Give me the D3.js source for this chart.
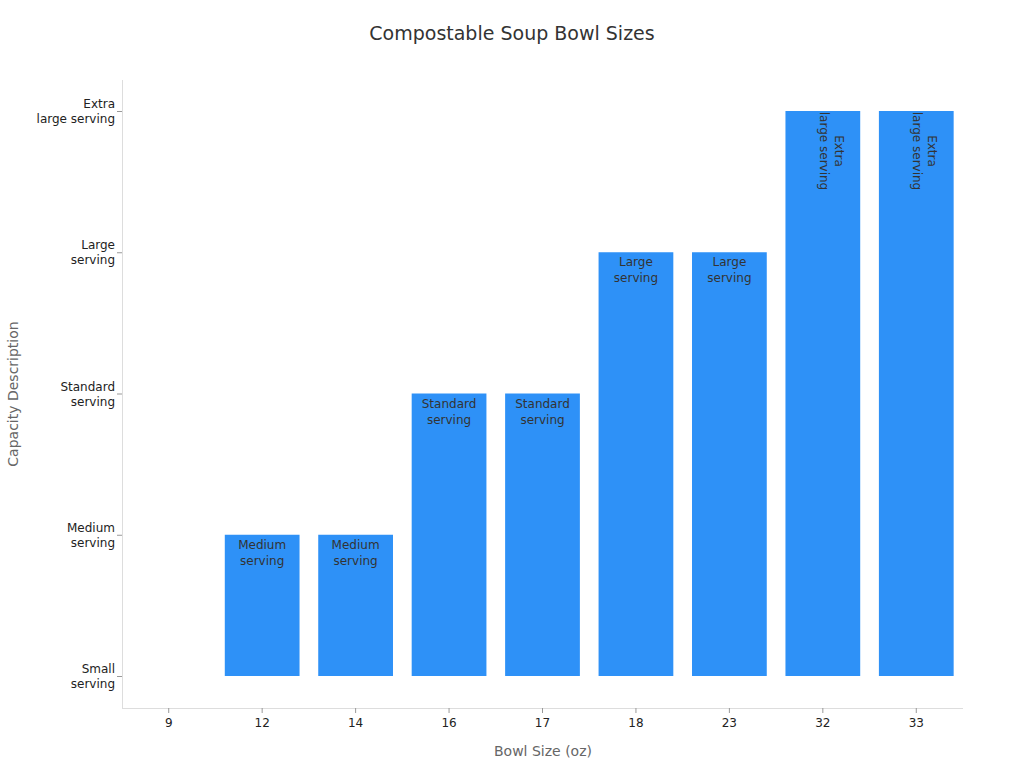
<!DOCTYPE html>
<html><head><meta charset="utf-8">
<script src="https://cdn.jsdelivr.net/npm/d3@7"></script>
<style>body{margin:0;background:#fff;font-family:"DejaVu Sans",sans-serif}</style>
</head><body><svg id="c" width="1024" height="768"></svg>
<script>
const sizes = ["9","12","14","16","17","18","23","32","33"];
const levels = ["Small serving","Medium serving","Standard serving","Large serving","Extra large serving"];
const levelLines = [["Small","serving"],["Medium","serving"],["Standard","serving"],["Large","serving"],["Extra","large serving"]];
const values = [0,1,1,2,2,3,3,4,4];

const svg = d3.select("#c");
const x = d3.scaleBand().domain(sizes).range([122,963]).paddingInner(0.2).paddingOuter(0.1);
const y = d3.scaleLinear().domain([0,4]).range([676,111]);

svg.append("text").attr("x",512).attr("y",40).attr("text-anchor","middle")
  .attr("font-size",19).attr("fill","#333").text("Compostable Soup Bowl Sizes");

// axes lines
svg.append("line").attr("x1",122.5).attr("x2",122.5).attr("y1",80).attr("y2",708).attr("stroke","#ddd");
svg.append("line").attr("x1",122).attr("x2",963).attr("y1",708.5).attr("y2",708.5).attr("stroke","#ddd");

// y ticks
levels.forEach((l,i)=>{
  const yy=y(i);
  svg.append("line").attr("x1",117).attr("x2",122).attr("y1",yy+0.5).attr("y2",yy+0.5).attr("stroke","#999");
  const t=svg.append("text").attr("x",115).attr("text-anchor","end").attr("font-size",12).attr("fill","#222");
  levelLines[i].forEach((s,j)=>t.append("tspan").attr("x",115).attr("y",yy-3+j*15).text(s));
});
// x ticks
sizes.forEach(s=>{
  const xx=x(s)+x.bandwidth()/2;
  svg.append("line").attr("x1",xx).attr("x2",xx).attr("y1",708).attr("y2",713).attr("stroke","#999");
  svg.append("text").attr("x",xx).attr("y",727).attr("text-anchor","middle").attr("font-size",12).attr("fill","#222").text(s);
});
svg.append("text").attr("x",543).attr("y",756).attr("text-anchor","middle").attr("font-size",14).attr("fill","#666").text("Bowl Size (oz)");
svg.append("text").attr("transform","translate(18,394) rotate(-90)").attr("text-anchor","middle").attr("font-size",14).attr("fill","#666").text("Capacity Description");

// bars
sizes.forEach((s,i)=>{
  const v=values[i];
  svg.append("rect").attr("x",x(s)).attr("width",x.bandwidth()).attr("y",y(v)).attr("height",y(0)-y(v)).attr("fill","#2e91f7");
  if(v===0) return;
  const cx=x(s)+x.bandwidth()/2;
  if(v===4){
    const t=svg.append("text").attr("transform",`translate(${cx+8},${y(v)+40}) rotate(90)`)
      .attr("text-anchor","middle").attr("font-size",12).attr("fill","#333");
    levelLines[v].forEach((l,j)=>t.append("tspan").attr("x",0).attr("y",j*15-4).text(l));
    // place lines: first line at +x, next toward -x
  } else {
    const t=svg.append("text").attr("text-anchor","middle").attr("font-size",12).attr("fill","#333");
    levelLines[v].forEach((l,j)=>t.append("tspan").attr("x",cx).attr("y",y(v)+14+j*16).text(l));
  }
});
</script></body></html>
